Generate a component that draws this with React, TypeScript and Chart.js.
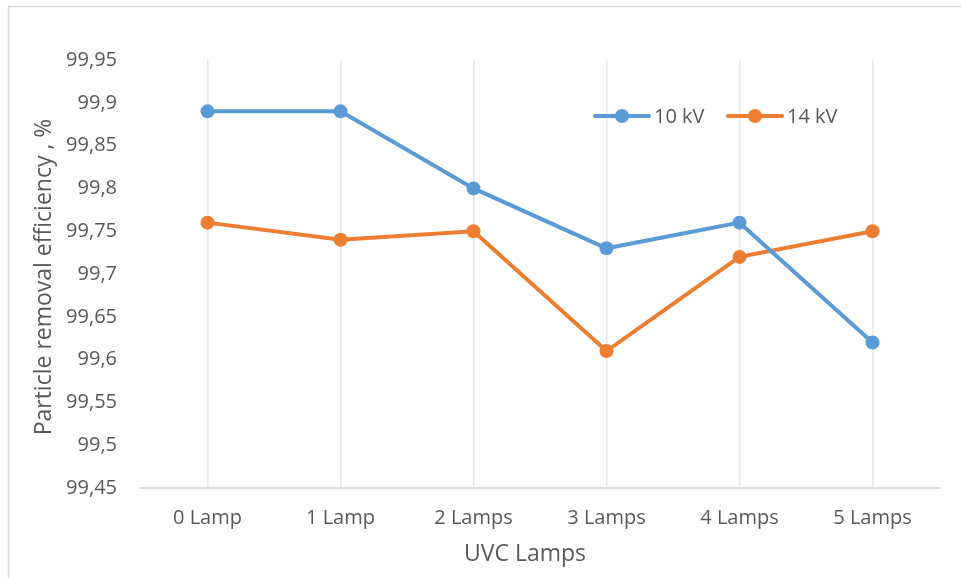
import React, { useEffect, useRef } from "react";
import { Chart, registerables } from "chart.js";

Chart.register(...registerables);

const categories = ["0 Lamp", "1 Lamp", "2 Lamps", "3 Lamps", "4 Lamps", "5 Lamps"];
const series10kV = [99.89, 99.89, 99.8, 99.73, 99.76, 99.62];
const series14kV = [99.76, 99.74, 99.75, 99.61, 99.72, 99.75];
const yTicks = [99.45, 99.5, 99.55, 99.6, 99.65, 99.7, 99.75, 99.8, 99.85, 99.9, 99.95];
const seriesNames = ["10 kV", "14 kV"];
const seriesColors = ["#5B9BD5", "#ED7D31"];
const xTitle = "UVC Lamps";
const yTitle = "Particle removal efficiency , %";

const FONT = "'Open Sans', 'Liberation Sans', sans-serif";
const TEXT = "#595959";

const fmt = (v: number) => String(Number(v.toFixed(2))).replace(".", ",");

const decorPlugin = {
  id: "decor",
  beforeDraw(chart: any) {
    const ctx = chart.ctx;
    ctx.save();
    ctx.strokeStyle = "#d9d9d9";
    ctx.lineWidth = 1.5;
    ctx.strokeRect(8.5, 6.5, chart.width, chart.height);
    ctx.restore();
  },
  afterDraw(chart: any) {
    const ctx = chart.ctx;
    const area = chart.chartArea;
    ctx.save();
    ctx.fillStyle = TEXT;
    ctx.font = `23px ${FONT}`;
    ctx.textAlign = "center";
    ctx.textBaseline = "middle";
    // x title
    ctx.fillText(xTitle, 525, 554);
    // y title
    ctx.save();
    ctx.translate(44, (area.top + area.bottom) / 2 + 3);
    ctx.rotate(-Math.PI / 2);
    ctx.fillText(yTitle, 0, 0);
    ctx.restore();
    // legend
    const legendY = 116;
    const starts = [595, 728];
    seriesNames.forEach((name, i) => {
      const x0 = starts[i];
      ctx.strokeStyle = seriesColors[i];
      ctx.lineWidth = 4;
      ctx.lineCap = "round";
      ctx.beginPath();
      ctx.moveTo(x0, legendY);
      ctx.lineTo(x0 + 54, legendY);
      ctx.stroke();
      ctx.fillStyle = seriesColors[i];
      ctx.beginPath();
      ctx.arc(x0 + 27, legendY, 7, 0, Math.PI * 2);
      ctx.fill();
      ctx.fillStyle = TEXT;
      ctx.textAlign = "left";
      ctx.font = `20px ${FONT}`;
      ctx.fillText(name, x0 + 59, legendY + 1);
    });
    ctx.restore();
  },
};

export default function App() {
  const ref = useRef<HTMLCanvasElement>(null);
  useEffect(() => {
    if (!ref.current) return;
    const chart = new Chart(ref.current, {
      type: "line",
      data: {
        labels: categories,
        datasets: [series10kV, series14kV].map((d, i) => ({
          label: seriesNames[i],
          data: d,
          borderColor: seriesColors[i],
          backgroundColor: seriesColors[i],
          borderWidth: 4,
          pointRadius: 7,
          pointHoverRadius: 7,
          pointBorderWidth: 0,
          tension: 0,
        })),
      },
      options: {
        responsive: false,
        animation: false,
        layout: { padding: { left: 0, top: 60, right: 22, bottom: 0 } },
        plugins: { legend: { display: false }, tooltip: { enabled: false } },
        scales: {
          x: {
            offset: true,
            grid: { offset: false, color: "#e8e8e8", lineWidth: 1.5, drawTicks: false },
            border: { color: "#d9d9d9", width: 2 },
            ticks: { color: TEXT, font: { family: FONT, size: 20 }, padding: 18 },
            afterFit: (s: any) => {
              s.height = 90;
            },
          },
          y: {
            min: 99.45,
            max: 99.95,
            grid: { display: false, drawTicks: false },
            border: { display: false },
            afterBuildTicks: (s: any) => {
              s.ticks = yTicks.map((v) => ({ value: v }));
            },
            ticks: {
              color: TEXT,
              font: { family: FONT, size: 20 },
              padding: 24,
              callback: (v: any) => fmt(Number(v)),
            },
            afterFit: (s: any) => {
              s.width = 141;
            },
          },
        },
      },
      plugins: [decorPlugin],
    });
    return () => chart.destroy();
  }, []);
  return (
    <div style={{ position: "absolute", left: 0, top: 0, width: 961, height: 578, background: "#fff" }}>
      <canvas ref={ref} width={961} height={578} style={{ display: "block" }} />
    </div>
  );
}
